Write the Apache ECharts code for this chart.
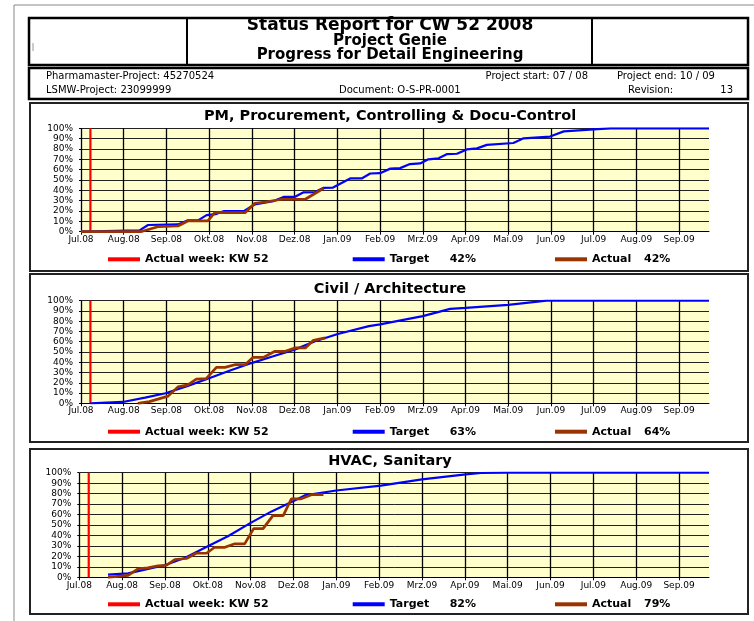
<!DOCTYPE html>
<html>
<head>
<meta charset="utf-8">
<script src="https://cdn.jsdelivr.net/npm/echarts@6/dist/echarts.min.js"></script>
<style>
html,body{margin:0;padding:0;background:#fff;}
#c{width:754px;height:621px;}
</style>
</head>
<body>
<div id="c"></div>
<script>
// ---- data (x = months since Jul.08, y = percent) ----
const monthLabels = ['Jul.08','Aug.08','Sep.08','Okt.08','Nov.08','Dez.08','Jan.09','Feb.09','Mrz.09','Apr.09','Mai.09','Jun.09','Jul.09','Aug.09','Sep.09'];
const panelTitles = ['PM, Procurement, Controlling & Docu-Control','Civil / Architecture','HVAC, Sanitary'];
const actualWeekLabel = 'Actual week: KW 52';
const actualWeekX = 0.22;
const targetPct = [42, 63, 82];
const actualPct = [42, 64, 79];

const pmTarget = [[0,0],[1.37,1.3],[1.57,6.5],[2.27,7],[2.5,11],[2.74,11],[2.94,16],[3.15,17],[3.35,20],[3.82,20],[4.07,26.5],[4.5,29.5],[4.74,33.6],[5.0,33.6],[5.2,38],[5.48,38.3],[5.68,42.4],[5.9,42.7],[6.3,51.5],[6.57,51.5],[6.77,56.3],[7.0,56.6],[7.24,61],[7.47,61.5],[7.7,65.4],[7.94,66],[8.13,70],[8.37,71],[8.56,75],[8.8,75.4],[9.03,79.6],[9.27,80.6],[9.5,84],[10.12,85.8],[10.36,90.3],[10.98,92],[11.3,97],[12.0,99],[12.4,100],[14.7,100]];
const pmActual = [[0,0],[1.4,0],[1.8,4.8],[2.27,5.5],[2.5,10.4],[2.97,10.4],[3.13,18.4],[3.84,18.4],[4.07,27.5],[4.35,29],[4.7,31.4],[5.25,31.4],[5.68,42]];

const civilTarget = [[0.22,0],[0.98,1.3],[1.5,5.5],[1.98,9.8],[2.5,17],[3.0,24.5],[3.49,32],[3.99,39.2],[4.5,45.8],[5.0,52.3],[5.48,60.5],[6.01,67.6],[6.74,75.2],[7.0,77],[8.0,85],[8.64,92],[9.0,93],[10.0,96],[10.9,100],[14.7,100]];
const civilActual = [[1.33,0],[1.6,1.6],[2.04,7],[2.27,16],[2.5,18],[2.7,23.5],[2.93,24],[3.17,35],[3.37,35],[3.6,37.6],[3.84,37.6],[4.03,44.8],[4.27,44.8],[4.54,50.7],[4.78,50.7],[5.02,54],[5.25,54],[5.44,61.4],[5.72,63.7]];

const hvacTarget = [[0.67,2.5],[1.14,3.8],[1.53,7.3],[1.99,11.5],[2.46,18.5],[3.0,29.6],[3.47,39.2],[4.0,52],[4.49,63],[4.99,72.6],[5.26,78.3],[6.0,83],[7.04,87.6],[8.0,93.6],[9.02,98.4],[9.38,99.7],[10.0,100],[14.7,100]];
const hvacActual = [[0.67,0],[1.14,1.9],[1.37,8],[1.6,9],[1.84,11],[2.03,11.5],[2.23,17],[2.5,18],[2.73,23],[2.97,23],[3.16,28.7],[3.4,28.7],[3.63,32],[3.86,32],[4.07,46.5],[4.29,46.5],[4.52,59],[4.76,59],[4.95,75],[5.18,75],[5.42,79],[5.7,79]];

const targets = [pmTarget, civilTarget, hvacTarget];
const actuals = [pmActual, civilActual, hvacActual];

// ---- layout ----
const FONT = 'DejaVu Sans';
const grids = [
  {left:81, top:128.3, width:628, height:103.4},
  {left:81, top:300.7, width:628, height:102.6},
  {left:79.3, top:472.7, width:629.7, height:104.6}
];
const panelBoxes = [[30,103,718,168],[30,274,718,168],[30,449,718,165]];
const titleY = [116.7, 289.3, 461];
const legendY = [259.3, 431.7, 604.3];
const xLabelMargin = [3, 3, 4];

const chart = echarts.init(document.getElementById('c'), null, {renderer:'canvas'});

const gridOpts = [], xAxes = [], yAxes = [], series = [], legends = [];
const legText = {fontFamily:FONT, fontWeight:'bold', fontSize:11, color:'#000', lineHeight:14};
function splitFmt(w){
  return function(name){ const p = name.split(' '); return '{a|' + p[0] + '}{b|' + p[1] + '}'; };
}
for (let i = 0; i < 3; i++) {
  gridOpts.push(Object.assign({show:true, backgroundColor:'#FFFFCC', borderWidth:0}, grids[i]));
  xAxes.push({
    type:'value', gridIndex:i, min:0, max:14.7, interval:1,
    axisLine:{show:true, lineStyle:{color:'#000', width:1}},
    axisTick:{show:true, length:3, lineStyle:{color:'#000', width:1}},
    axisLabel:{fontFamily:FONT, fontSize:9, color:'#000', margin:xLabelMargin[i], showMaxLabel:false,
      formatter: v => (Number.isInteger(v) && monthLabels[v]) ? monthLabels[v] : ''},
    splitLine:{show:true, showMaxLine:false, lineStyle:{color:'#000', width:1.3}}
  });
  yAxes.push({
    type:'value', gridIndex:i, min:0, max:100, interval:10,
    axisLine:{show:false},
    axisTick:{show:true, length:2, lineStyle:{color:'#000'}},
    axisLabel:{fontFamily:FONT, fontSize:9, color:'#000', margin:8, formatter:'{value}%'},
    splitLine:{show:true, lineStyle:{color:'#222', width:1}}
  });
  const tName = 'Target ' + targetPct[i] + '%';
  const aName = 'Actual ' + actualPct[i] + '%';
  series.push({
    type:'line', name:actualWeekLabel, xAxisIndex:i, yAxisIndex:i,
    data:[[actualWeekX,0],[actualWeekX,100]], symbol:'none', color:'#FF0000',
    lineStyle:{color:'#FF0000', width:2.2}, z:3
  });
  series.push({
    type:'line', name:tName, xAxisIndex:i, yAxisIndex:i, data:targets[i],
    symbol:'none', color:'#0000FF', lineStyle:{color:'#0000FF', width:2.2}, z:4
  });
  series.push({
    type:'line', name:aName, xAxisIndex:i, yAxisIndex:i, data:actuals[i],
    symbol:'none', color:'#993300', lineStyle:{color:'#993300', width:2.7}, z:5
  });
  const ltop = legendY[i] - 7;
  legends.push({data:[{name:actualWeekLabel, icon:'rect'}], left:108, top:ltop, padding:0,
    itemWidth:32, itemHeight:4, selectedMode:false, textStyle:legText});
  legends.push({data:[{name:tName, icon:'rect'}], left:352.7, top:ltop, padding:0,
    itemWidth:32, itemHeight:4, selectedMode:false, formatter:splitFmt(),
    textStyle:Object.assign({}, legText, {rich:{a:Object.assign({}, legText, {width:60}), b:Object.assign({}, legText)}})});
  legends.push({data:[{name:aName, icon:'rect'}], left:555, top:ltop, padding:0,
    itemWidth:32, itemHeight:4, selectedMode:false, formatter:splitFmt(),
    textStyle:Object.assign({}, legText, {rich:{a:Object.assign({}, legText, {width:52}), b:Object.assign({}, legText)}})});
}

// ---- page furniture ----
const graphics = [];
// outer frame
graphics.push({type:'polyline', shape:{points:[[14,621],[14,5],[754,5]]}, style:{stroke:'#888', lineWidth:1, fill:null}, silent:true});
// header box
graphics.push({type:'rect', shape:{x:29, y:18, width:719, height:47}, style:{stroke:'#000', lineWidth:2.5, fill:null}, silent:true});
graphics.push({type:'line', shape:{x1:187, y1:18, x2:187, y2:65}, style:{stroke:'#000', lineWidth:2}, silent:true});
graphics.push({type:'line', shape:{x1:592, y1:18, x2:592, y2:65}, style:{stroke:'#000', lineWidth:2}, silent:true});
graphics.push({type:'line', shape:{x1:33, y1:43, x2:33, y2:51}, style:{stroke:'#999', lineWidth:1}, silent:true});
// info box
graphics.push({type:'rect', shape:{x:29, y:68, width:719, height:31}, style:{stroke:'#000', lineWidth:2.5, fill:null}, silent:true});

function txt(x, y, text, size, weight, align){
  graphics.push({type:'text', x:x, y:y, silent:true,
    style:{text:text, fontFamily:FONT, fontSize:size, fontWeight:weight, fill:'#000',
      textAlign:align, textVerticalAlign:'middle'}});
}
txt(390, 25.5, 'Status Report for CW 52 2008', 17, 'bold', 'center');
txt(390, 41, 'Project Genie', 15, 'bold', 'center');
txt(390, 55.5, 'Progress for Detail Engineering', 15, 'bold', 'center');
txt(46, 76, 'Pharmamaster-Project: 45270524', 10, 'normal', 'left');
txt(588, 76, 'Project start: 07 / 08', 10, 'normal', 'right');
txt(617, 76, 'Project end: 10 / 09', 10, 'normal', 'left');
txt(46, 90.5, 'LSMW-Project: 23099999', 10, 'normal', 'left');
txt(339, 90.5, 'Document: O-S-PR-0001', 10, 'normal', 'left');
txt(628, 90.5, 'Revision:', 10, 'normal', 'left');
txt(733, 90.5, '13', 10, 'normal', 'right');

for (let i = 0; i < 3; i++) {
  const b = panelBoxes[i];
  graphics.push({type:'rect', shape:{x:b[0], y:b[1], width:b[2], height:b[3]}, style:{stroke:'#222', lineWidth:2, fill:null}, silent:true});
  txt(390, titleY[i], panelTitles[i], 14.5, 'bold', 'center');
}

chart.setOption({
  animation:false,
  backgroundColor:'#fff',
  grid:gridOpts,
  xAxis:xAxes,
  yAxis:yAxes,
  legend:legends,
  series:series,
  graphic:graphics
});
</script>
</body>
</html>
